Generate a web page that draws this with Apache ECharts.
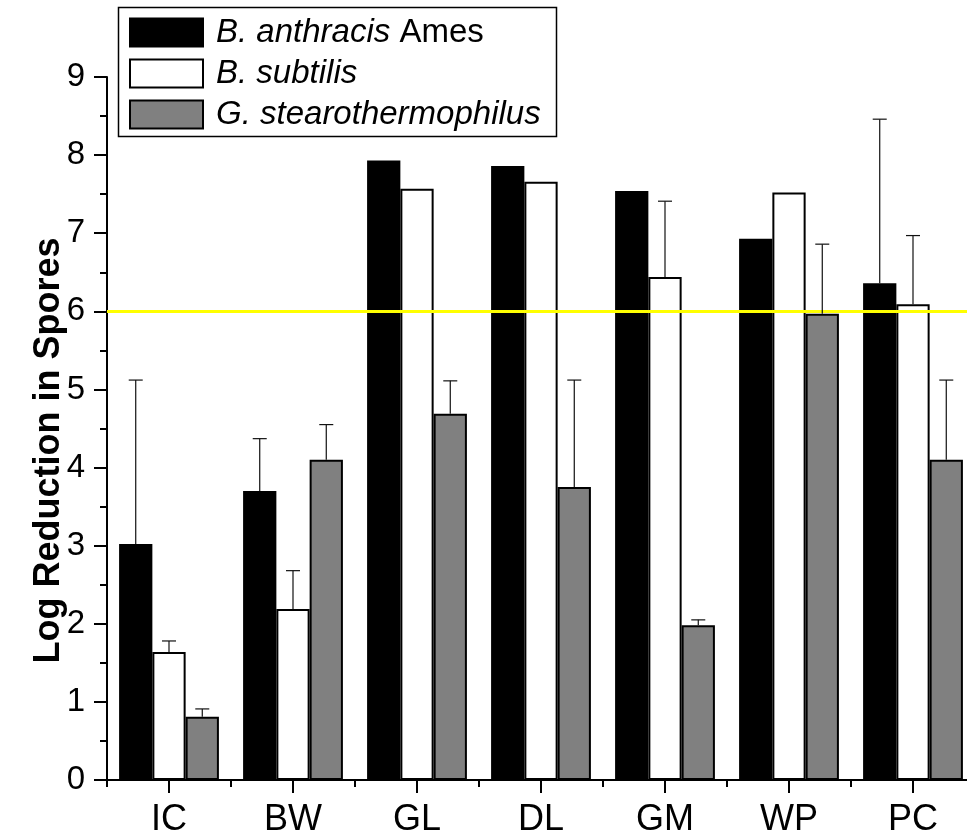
<!DOCTYPE html>
<html>
<head>
<meta charset="utf-8">
<title>Log Reduction in Spores</title>
<script src="https://cdn.jsdelivr.net/npm/echarts@6/dist/echarts.min.js"></script>
<style>
  html, body { margin: 0; padding: 0; background: #fff; }
  #chart { width: 967px; height: 835px; }
</style>
</head>
<body>
<div id="chart"></div>
<script>
// Decontamination methods on the category axis
const categories = ['IC', 'BW', 'GL', 'DL', 'GM', 'WP', 'PC'];

// Mean log reduction per organism and the upper error (SD) for each
const anthracisValues = [3.02, 3.70, 7.93, 7.86, 7.54, 6.93, 6.36];
const anthracisErrors = [2.10, 0.67, 0, 0, 0, 0, 2.10];
const subtilisValues = [1.64, 2.19, 7.57, 7.66, 6.44, 7.52, 6.09];
const subtilisErrors = [0.14, 0.49, 0, 0, 0.97, 0, 0.88];
const stearoValues = [0.81, 4.10, 4.69, 3.75, 1.98, 5.97, 4.10];
const stearoErrors = [0.10, 0.45, 0.42, 1.37, 0.07, 0.89, 1.02];

// 6-log reduction threshold
const thresholdValue = 6;

const seriesNames = ['B. anthracis Ames', 'B. subtilis', 'G. stearothermophilus'];
const legendRich = {
  'B. anthracis Ames': '{i|B. anthracis}{n| Ames}',
  'B. subtilis': '{i|B. subtilis}',
  'G. stearothermophilus': '{i|G. stearothermophilus}'
};

const FONT = '"Liberation Sans", Arial, Helvetica, sans-serif';
const GAP = 0.195;          // barCategoryGap as a fraction
const N_BARS = 3;

function errorSeries(name, values, errors, idx) {
  return {
    type: 'custom',
    name: name + ' error',
    z: 5,
    silent: true,
    data: values.map((v, i) => [i, v, errors[i]]),
    renderItem: function (params, api) {
      const x = api.value(0), v = api.value(1), e = api.value(2);
      if (!e) return null;
      const band = api.size([1, 0])[0];
      const bw = band * (1 - GAP) / N_BARS;
      const base = api.coord([x, v]);
      const top = api.coord([x, v + e]);
      const cx = base[0] + (idx - (N_BARS - 1) / 2) * bw;
      const cap = 7;
      const style = { stroke: '#111', lineWidth: 1.2 };
      return {
        type: 'group',
        children: [
          { type: 'line', shape: { x1: cx, y1: base[1], x2: cx, y2: top[1] }, style: style },
          { type: 'line', shape: { x1: cx - cap, y1: top[1], x2: cx + cap, y2: top[1] }, style: style }
        ]
      };
    }
  };
}

function barSeries(name, values, color) {
  return {
    type: 'bar',
    name: name,
    data: values,
    barGap: '0%',
    barCategoryGap: (GAP * 100) + '%',
    itemStyle: { color: color, borderColor: '#000', borderWidth: 2 },
    z: 2
  };
}

const chart = echarts.init(document.getElementById('chart'), null, { renderer: 'canvas' });

chart.setOption({
  animation: false,
  backgroundColor: '#fff',
  grid: {
    left: 107, top: 77, width: 868, height: 703,
    containLabel: false, outerBoundsMode: 'none'
  },
  legend: {
    data: seriesNames,
    orient: 'vertical',
    left: 129,
    top: 16,
    padding: 0,
    itemWidth: 73,
    itemHeight: 28,
    itemGap: 8,
    selectedMode: false,
    icon: 'rect',
    formatter: function (name) { return legendRich[name]; },
    textStyle: {
      color: '#000',
      fontFamily: FONT,
      fontSize: 33,
      padding: [0, 0, 0, 8],
      rich: {
        i: { fontStyle: 'italic', fontSize: 33, fontFamily: FONT, color: '#000' },
        n: { fontStyle: 'normal', fontSize: 33, fontFamily: FONT, color: '#000' }
      }
    }
  },
  graphic: [{
    type: 'rect',
    shape: { x: 118.5, y: 7.5, width: 438, height: 129 },
    style: { fill: 'none', stroke: '#000', lineWidth: 1.5 },
    silent: true,
    z: 100
  }],
  xAxis: [{
    type: 'category',
    data: categories,
    position: 'bottom',
    axisLine: { show: true, lineStyle: { color: '#000', width: 2 } },
    axisTick: { show: true, alignWithLabel: true, length: 13, lineStyle: { color: '#000', width: 2 } },
    axisLabel: { color: '#000', fontFamily: FONT, fontSize: 36, margin: 22 },
    splitLine: { show: false }
  }, {
    type: 'category',
    data: categories,
    position: 'bottom',
    axisLine: { show: false },
    axisTick: { show: true, alignWithLabel: false, length: 7, lineStyle: { color: '#000', width: 2 } },
    axisLabel: { show: false },
    splitLine: { show: false }
  }],
  yAxis: {
    type: 'value',
    min: 0,
    max: 9,
    interval: 1,
    name: 'Log Reduction in Spores',
    nameLocation: 'middle',
    nameGap: 40,
    nameMoveOverlap: false,
    nameTextStyle: {
      color: '#000', fontFamily: FONT, fontSize: 36, fontWeight: 'bold',
      padding: [0, 44, 0, 0]
    },
    axisLine: { show: true, lineStyle: { color: '#000', width: 2 } },
    axisTick: { show: true, length: 13, lineStyle: { color: '#000', width: 2 } },
    minorTick: { show: true, splitNumber: 2, length: 7, lineStyle: { color: '#000', width: 2 } },
    axisLabel: { color: '#000', fontFamily: FONT, fontSize: 33, margin: 22 },
    splitLine: { show: false },
    minorSplitLine: { show: false }
  },
  series: [
    barSeries(seriesNames[0], anthracisValues, '#000000'),
    barSeries(seriesNames[1], subtilisValues, '#ffffff'),
    barSeries(seriesNames[2], stearoValues, '#808080'),
    errorSeries(seriesNames[0], anthracisValues, anthracisErrors, 0),
    errorSeries(seriesNames[1], subtilisValues, subtilisErrors, 1),
    errorSeries(seriesNames[2], stearoValues, stearoErrors, 2),
    {
      type: 'line',
      name: 'threshold',
      data: [],
      z: 10,
      markLine: {
        silent: true,
        symbol: ['none', 'none'],
        label: { show: false },
        lineStyle: { color: '#ffff00', width: 3, type: 'solid' },
        data: [{ yAxis: thresholdValue }]
      }
    }
  ]
});
</script>
</body>
</html>
